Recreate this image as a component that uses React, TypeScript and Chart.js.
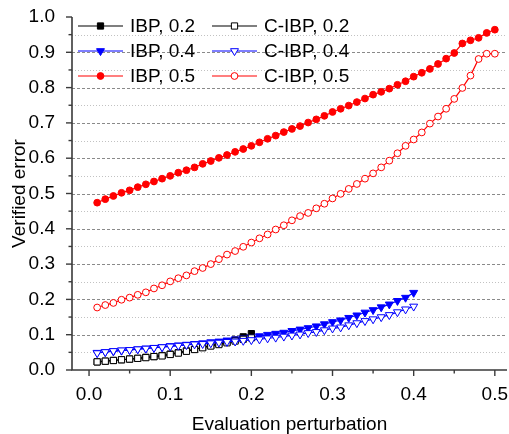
import React, { useEffect, useRef } from 'react';
import { Chart, registerables } from 'chart.js';

Chart.register(...registerables);

const xValues = [
  0.01, 0.02, 0.03, 0.04, 0.05, 0.06, 0.07, 0.08, 0.09, 0.10,
  0.11, 0.12, 0.13, 0.14, 0.15, 0.16, 0.17, 0.18, 0.19, 0.20,
  0.21, 0.22, 0.23, 0.24, 0.25, 0.26, 0.27, 0.28, 0.29, 0.30,
  0.31, 0.32, 0.33, 0.34, 0.35, 0.36, 0.37, 0.38, 0.39, 0.40,
  0.41, 0.42, 0.43, 0.44, 0.45, 0.46, 0.47, 0.48, 0.49, 0.50,
];

const ibp02 = [
  0.023, 0.025, 0.027, 0.029, 0.031, 0.033, 0.036, 0.038, 0.041, 0.045,
  0.049, 0.054, 0.059, 0.064, 0.069, 0.074, 0.079, 0.085, 0.094, 0.103,
];
const cibp02 = [
  0.023, 0.025, 0.027, 0.029, 0.031, 0.033, 0.035, 0.038, 0.040, 0.044,
  0.048, 0.053, 0.058, 0.063, 0.068, 0.072, 0.077, 0.082, 0.087, 0.091,
];
const ibp04 = [
  0.049, 0.051, 0.053, 0.055, 0.057, 0.059, 0.061, 0.063, 0.065, 0.068,
  0.070, 0.072, 0.074, 0.076, 0.079, 0.081, 0.084, 0.087, 0.090, 0.093,
  0.096, 0.100, 0.103, 0.106, 0.111, 0.115, 0.119, 0.124, 0.130, 0.136,
  0.141, 0.148, 0.155, 0.163, 0.170, 0.178, 0.186, 0.196, 0.205, 0.219,
];
const cibp04 = [
  0.048, 0.051, 0.054, 0.056, 0.057, 0.059, 0.061, 0.063, 0.065, 0.067,
  0.069, 0.071, 0.073, 0.074, 0.076, 0.078, 0.080, 0.081, 0.083, 0.085,
  0.087, 0.090, 0.092, 0.095, 0.098, 0.101, 0.105, 0.108, 0.113, 0.118,
  0.121, 0.127, 0.133, 0.139, 0.144, 0.150, 0.156, 0.164, 0.172, 0.180,
];
const ibp05 = [
  0.474, 0.484, 0.493, 0.502, 0.509, 0.518, 0.526, 0.534, 0.542, 0.550,
  0.559, 0.566, 0.574, 0.584, 0.592, 0.601, 0.609, 0.618, 0.626, 0.635,
  0.645, 0.655, 0.664, 0.674, 0.683, 0.691, 0.701, 0.710, 0.720, 0.731,
  0.740, 0.749, 0.759, 0.769, 0.780, 0.788, 0.797, 0.808, 0.818, 0.831,
  0.842, 0.853, 0.867, 0.882, 0.898, 0.925, 0.934, 0.941, 0.955, 0.964,
];
const cibp05 = [
  0.177, 0.184, 0.190, 0.199, 0.205, 0.213, 0.220, 0.231, 0.240, 0.251,
  0.260, 0.268, 0.280, 0.289, 0.300, 0.314, 0.327, 0.337, 0.349, 0.361,
  0.373, 0.384, 0.398, 0.410, 0.424, 0.436, 0.445, 0.458, 0.471, 0.486,
  0.499, 0.513, 0.527, 0.542, 0.557, 0.574, 0.593, 0.614, 0.635, 0.653,
  0.673, 0.698, 0.718, 0.740, 0.768, 0.799, 0.834, 0.881, 0.896, 0.896,
];

const xMajorTicks = [0, 0.1, 0.2, 0.3, 0.4, 0.5];
const xMinorTicks = [0.05, 0.15, 0.25, 0.35, 0.45];
const yMajorTicks = [0, 0.1, 0.2, 0.3, 0.4, 0.5, 0.6, 0.7, 0.8, 0.9, 1.0];
const yMinorTicks = [0.05, 0.15, 0.25, 0.35, 0.45, 0.55, 0.65, 0.75, 0.85, 0.95];

const FONT = '"Liberation Sans", Arial, sans-serif';
const FS = 19;

type Series = {
  label: string;
  values: number[];
  color: string;
  style: 'rect' | 'triangle' | 'circle';
  filled: boolean;
};

const seriesList: Series[] = [
  { label: 'IBP, 0.2', values: ibp02, color: '#000000', style: 'rect', filled: true },
  { label: 'IBP, 0.4', values: ibp04, color: '#0000ff', style: 'triangle', filled: true },
  { label: 'IBP, 0.5', values: ibp05, color: '#ff0000', style: 'circle', filled: true },
  { label: 'C-IBP, 0.2', values: cibp02, color: '#000000', style: 'rect', filled: false },
  { label: 'C-IBP, 0.4', values: cibp04, color: '#0000ff', style: 'triangle', filled: false },
  { label: 'C-IBP, 0.5', values: cibp05, color: '#ff0000', style: 'circle', filled: false },
];

const radiusFor = (s: Series) => (s.style === 'rect' ? 4.4 : s.style === 'triangle' ? 4.6 : 3.4);

function drawMarker(ctx: CanvasRenderingContext2D, s: Series, x: number, y: number) {
  const r = radiusFor(s);
  ctx.beginPath();
  if (s.style === 'rect') {
    const h = r * Math.SQRT1_2;
    ctx.rect(x - h, y - h, 2 * h, 2 * h);
  } else if (s.style === 'circle') {
    ctx.arc(x, y, r, 0, Math.PI * 2);
  } else {
    let rad = Math.PI;
    ctx.moveTo(x + Math.sin(rad) * r, y - Math.cos(rad) * r);
    rad += (2 * Math.PI) / 3;
    ctx.lineTo(x + Math.sin(rad) * r, y - Math.cos(rad) * r);
    rad += (2 * Math.PI) / 3;
    ctx.lineTo(x + Math.sin(rad) * r, y - Math.cos(rad) * r);
    ctx.closePath();
  }
  ctx.fillStyle = s.filled ? s.color : '#ffffff';
  ctx.fill();
  ctx.lineWidth = 1;
  ctx.strokeStyle = s.color;
  ctx.stroke();
}

const isMajor = (v: number) => Math.abs(Math.round(v * 10) - v * 10) < 1e-6;

export default function App() {
  const ref = useRef<HTMLCanvasElement>(null);

  useEffect(() => {
    const canvas = ref.current;
    if (!canvas) return;

    const datasets = seriesList.map((s, i) => ({
      label: s.label,
      data: s.values.map((v, k) => ({ x: xValues[k], y: v })),
      borderColor: s.color,
      backgroundColor: s.filled ? s.color : '#ffffff',
      borderWidth: 1.2,
      pointStyle: s.style,
      pointRotation: s.style === 'triangle' ? 180 : 0,
      pointRadius: radiusFor(s),
      pointBorderWidth: 1,
      pointBorderColor: s.color,
      pointBackgroundColor: s.filled ? s.color : '#ffffff',
      tension: 0,
      fill: false,
      clip: false,
      order: s.filled ? 10 - i : 5 - i,
    }));

    const decor = {
      id: 'decor',
      beforeDatasetsDraw(chart: any) {
        const { ctx, chartArea, scales } = chart;
        const y = scales.y;
        ctx.save();
        ctx.lineWidth = 1;
        ctx.setLineDash([1, 2]);
        ctx.strokeStyle = '#c2c2c2';
        for (const v of yMinorTicks) {
          const py = Math.round(y.getPixelForValue(v)) + 0.5;
          ctx.beginPath();
          ctx.moveTo(chartArea.left, py);
          ctx.lineTo(chartArea.right, py);
          ctx.stroke();
        }
        ctx.setLineDash([3, 2]);
        ctx.strokeStyle = '#8a8a8a';
        for (const v of yMajorTicks) {
          if (v <= 0 || v >= 1) continue;
          const py = Math.round(y.getPixelForValue(v)) + 0.5;
          ctx.beginPath();
          ctx.moveTo(chartArea.left, py);
          ctx.lineTo(chartArea.right, py);
          ctx.stroke();
        }
        ctx.restore();
      },
      afterDraw(chart: any) {
        const { ctx, chartArea, scales } = chart;
        const x = scales.x;
        const y = scales.y;
        ctx.save();
        ctx.strokeStyle = '#3a3a3a';
        ctx.lineWidth = 1.6;
        ctx.setLineDash([]);
        ctx.beginPath();
        ctx.moveTo(chartArea.left, chartArea.top);
        ctx.lineTo(chartArea.left, chartArea.bottom);
        ctx.lineTo(chartArea.right, chartArea.bottom);
        ctx.stroke();
        ctx.lineWidth = 1.4;
        for (const v of yMajorTicks) {
          const py = y.getPixelForValue(v);
          ctx.beginPath();
          ctx.moveTo(chartArea.left, py);
          ctx.lineTo(chartArea.left - 6, py);
          ctx.stroke();
        }
        for (const v of yMinorTicks) {
          const py = y.getPixelForValue(v);
          ctx.beginPath();
          ctx.moveTo(chartArea.left, py);
          ctx.lineTo(chartArea.left - 3.5, py);
          ctx.stroke();
        }
        for (const v of xMajorTicks) {
          const px = x.getPixelForValue(v);
          ctx.beginPath();
          ctx.moveTo(px, chartArea.bottom);
          ctx.lineTo(px, chartArea.bottom + 6);
          ctx.stroke();
        }
        for (const v of xMinorTicks) {
          const px = x.getPixelForValue(v);
          ctx.beginPath();
          ctx.moveTo(px, chartArea.bottom);
          ctx.lineTo(px, chartArea.bottom + 3.5);
          ctx.stroke();
        }
        const colX = [78, 212];
        const rowY = [26, 51, 76];
        ctx.font = `${FS}px ${FONT}`;
        ctx.textBaseline = 'middle';
        ctx.textAlign = 'left';
        seriesList.forEach((s, i) => {
          const cx = colX[Math.floor(i / 3)];
          const cy = rowY[i % 3];
          ctx.strokeStyle = s.color;
          ctx.lineWidth = 1.2;
          ctx.beginPath();
          ctx.moveTo(cx, cy);
          ctx.lineTo(cx + 45, cy);
          ctx.stroke();
          drawMarker(ctx, s, cx + 22.5, cy);
          ctx.fillStyle = '#000000';
          ctx.fillText(s.label, cx + 52, cy + 1);
        });
        ctx.restore();
      },
    };

    const chart = new Chart(canvas, {
      type: 'line',
      data: { datasets: datasets as any },
      options: {
        responsive: false,
        animation: false,
        devicePixelRatio: 1,
        layout: { autoPadding: false, padding: { top: 17, right: 2, left: 0, bottom: 0 } },
        plugins: { legend: { display: false }, tooltip: { enabled: false } },
        scales: {
          x: {
            type: 'linear',
            min: -0.021,
            max: 0.515,
            afterBuildTicks: (s: any) => {
              s.ticks = [...xMajorTicks, ...xMinorTicks].sort((a, b) => a - b).map((v) => ({ value: v }));
            },
            afterFit: (s: any) => {
              s.height = 64;
              s.paddingLeft = 0;
              s.paddingRight = 0;
            },
            grid: { display: false },
            border: { display: false },
            ticks: {
              autoSkip: false,
              maxRotation: 0,
              padding: 5,
              color: '#000000',
              font: { family: FONT, size: FS },
              callback: (v: any) => (isMajor(Number(v)) ? Number(v).toFixed(1) : ''),
            },
            title: {
              display: true,
              text: 'Evaluation perturbation',
              color: '#000000',
              font: { family: FONT, size: FS },
              padding: { top: 0, bottom: -2 },
            },
          },
          y: {
            type: 'linear',
            min: 0,
            max: 1,
            afterBuildTicks: (s: any) => {
              s.ticks = [...yMajorTicks, ...yMinorTicks].sort((a, b) => a - b).map((v) => ({ value: v }));
            },
            afterFit: (s: any) => {
              s.width = 72;
              s.paddingTop = 0;
              s.paddingBottom = 0;
            },
            grid: { display: false },
            border: { display: false },
            ticks: {
              autoSkip: false,
              padding: 9,
              color: '#000000',
              font: { family: FONT, size: FS },
              callback: (v: any) => (isMajor(Number(v)) ? Number(v).toFixed(1) : ''),
            },
            title: {
              display: true,
              text: 'Verified error',
              color: '#000000',
              font: { family: FONT, size: FS },
              padding: { top: 8, bottom: 0 },
            },
          },
        },
      },
      plugins: [decor],
    });

    return () => chart.destroy();
  }, []);

  return (
    <div style={{ position: 'absolute', left: 0, top: 0, width: 509, height: 434, background: '#ffffff' }}>
      <canvas ref={ref} width={509} height={434} style={{ display: 'block' }} />
    </div>
  );
}
